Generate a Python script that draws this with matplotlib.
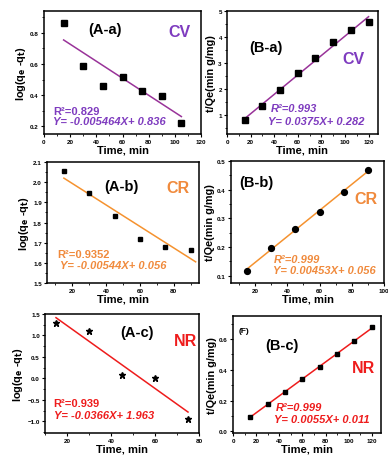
import numpy as np
import matplotlib
matplotlib.use('Agg')
import matplotlib.pyplot as plt
from matplotlib.ticker import AutoMinorLocator

plt.rcParams['font.family'] = ['Liberation Sans', 'DejaVu Sans']
plt.rcParams['font.weight'] = 'bold'
plt.rcParams['mathtext.default'] = 'bf'

# data
t_aa = [15, 30, 45, 60, 75, 90, 105]
y_aa = [0.865, 0.587, 0.458, 0.516, 0.426, 0.394, 0.219]
fit_aa_x = [15, 105]
fit_aa_y = [0.754, 0.262]

t_ba = [15, 30, 45, 60, 75, 90, 105, 120]
y_ba = [0.80, 1.35, 1.93, 2.62, 3.20, 3.80, 4.27, 4.58]
fit_ba_x = [15, 120]
fit_ba_y = [0.844, 4.78]

t_ab = [15, 30, 45, 60, 75, 90]
y_ab = [2.055, 1.945, 1.83, 1.716, 1.68, 1.663]
fit_ab_x = [15, 93]
fit_ab_y = [2.02, 1.605]

t_bb = [15, 30, 45, 60, 75, 90]
y_bb = [0.118, 0.198, 0.263, 0.322, 0.393, 0.467]
fit_bb_x = [15, 90]
fit_bb_y = [0.124, 0.464]

t_ac = [15, 30, 45, 60, 75]
y_ac = [1.29, 1.10, 0.09, 0.015, -0.95]
fit_ac_x = [15, 75]
fit_ac_y = [1.414, -0.782]

t_bc = [15, 30, 45, 60, 75, 90, 105, 120]
y_bc = [0.095, 0.18, 0.258, 0.34, 0.42, 0.505, 0.59, 0.68]
fit_bc_x = [15, 120]
fit_bc_y = [0.0935, 0.671]

purple_l, purple_t = '#993399', '#7E3BBF'
orange_l, orange_t = '#F5922F', '#F08A3C'
red = '#EE1C1C'

W, H = 388, 456
fig = plt.figure(figsize=(W / 100, H / 100), dpi=100)


def make_ax(l, t, r, b):
    ax = fig.add_axes([l / W, 1 - b / H, (r - l) / W, (b - t) / H])
    for s in ax.spines.values():
        s.set_linewidth(1.1)
    ax.tick_params(labelsize=4.5, width=0.8, length=2.5, pad=1.2)
    ax.tick_params(which='minor', width=0.6, length=1.5)
    ax.xaxis.set_minor_locator(AutoMinorLocator(2))
    ax.yaxis.set_minor_locator(AutoMinorLocator(2))
    ax.set_xlabel('Time, min', fontsize=8, fontweight='bold', labelpad=0)
    return ax


def txt(ax, x, y, s, color, size, ha='left', style='normal'):
    ax.text(x, y, s, transform=ax.transAxes, color=color, fontsize=size,
            fontweight='bold', ha=ha, va='center', style=style)


ylab_kw = dict(fontsize=7.8, fontweight='bold', labelpad=1.5)

# (A-a)
ax = make_ax(44, 12, 201, 135)
ax.plot(fit_aa_x, fit_aa_y, color=purple_l, lw=1.1)
ax.plot(t_aa, y_aa, 's', color='black', ms=4)
ax.set_xlim(0, 120)
ax.set_ylim(0.15, 0.94)
ax.set_xticks([0, 20, 40, 60, 80, 100, 120])
ax.set_yticks([0.2, 0.4, 0.6, 0.8])
ax.set_ylabel('log(q$_e$ -q$_t$)', **ylab_kw)
txt(ax, 0.39, 0.855, '(A-a)', 'black', 10.5, ha='center')
txt(ax, 0.86, 0.83, 'CV', purple_t, 11.5, ha='center')
txt(ax, 0.06, 0.19, 'R²=0.829', purple_t, 8)
txt(ax, 0.06, 0.105, 'Y= -0.005464X+ 0.836', purple_t, 8, style='italic')

# (B-a)
ax = make_ax(227, 12, 378, 135)
ax.plot(fit_ba_x, fit_ba_y, color=purple_l, lw=1.1)
ax.plot(t_ba, y_ba, 's', color='black', ms=4)
ax.set_xlim(0, 128)
ax.set_ylim(0.25, 5)
ax.set_xticks([0, 20, 40, 60, 80, 100, 120])
ax.set_yticks([1, 2, 3, 4, 5])
ax.set_ylabel('t/Qe(min g/mg)', **ylab_kw)
txt(ax, 0.26, 0.71, '(B-a)', 'black', 10.5, ha='center')
txt(ax, 0.84, 0.61, 'CV', purple_t, 11.5, ha='center')
txt(ax, 0.29, 0.21, 'R²=0.993', purple_t, 8, style='italic')
txt(ax, 0.27, 0.105, 'Y= 0.0375X+ 0.282', purple_t, 8, style='italic')

# (A-b)
ax = make_ax(47, 163, 199, 284)
ax.plot(fit_ab_x, fit_ab_y, color=orange_l, lw=1.1)
ax.plot(t_ab, y_ab, 's', color='black', ms=3.5)
ax.set_xlim(5, 95)
ax.set_ylim(1.5, 2.1)
ax.set_xticks([20, 40, 60, 80])
ax.set_yticks([1.5, 1.6, 1.7, 1.8, 1.9, 2.0, 2.1])
ax.set_ylabel('log(q$_e$ -q$_t$)', **ylab_kw)
txt(ax, 0.49, 0.80, '(A-b)', 'black', 10.5, ha='center')
txt(ax, 0.86, 0.79, 'CR', orange_t, 11.5, ha='center')
txt(ax, 0.07, 0.24, 'R²=0.9352', orange_t, 8)
txt(ax, 0.085, 0.15, 'Y= -0.00544X+ 0.056', orange_t, 8, style='italic')

# (B-b)
ax = make_ax(231, 162, 384, 284)
ax.plot(fit_bb_x, fit_bb_y, color=orange_l, lw=1.1)
ax.plot(t_bb, y_bb, 'o', color='black', ms=4.2)
ax.set_xlim(5, 100)
ax.set_ylim(0.075, 0.5)
ax.set_xticks([20, 40, 60, 80, 100])
ax.set_yticks([0.1, 0.2, 0.3, 0.4, 0.5])
ax.set_ylabel('t/Qe(min g/mg)', **ylab_kw)
txt(ax, 0.165, 0.83, '(B-b)', 'black', 10.5, ha='center')
txt(ax, 0.88, 0.69, 'CR', orange_t, 11.5, ha='center')
txt(ax, 0.28, 0.20, 'R²=0.999', orange_t, 8, style='italic')
txt(ax, 0.275, 0.105, 'Y= 0.00453X+ 0.056', orange_t, 8, style='italic')

# (A-c)
ax = make_ax(45, 315, 199, 434)
ax.plot(fit_ac_x, fit_ac_y, color=red, lw=1.1)
ax.plot(t_ac, y_ac, '*', color='black', ms=4.5)
ax.set_xlim(10, 80)
ax.set_ylim(-1.27, 1.5)
ax.set_xticks([20, 40, 60, 80])
ax.set_yticks([-1.0, -0.5, 0.0, 0.5, 1.0, 1.5])
ax.set_ylabel('log(q$_e$ -q$_t$)', **ylab_kw)
txt(ax, 0.60, 0.85, '(A-c)', 'black', 10.5, ha='center')
txt(ax, 0.91, 0.775, 'NR', red, 11.5, ha='center')
txt(ax, 0.055, 0.25, 'R²=0.939', red, 8)
txt(ax, 0.06, 0.15, 'Y= -0.0366X+ 1.963', red, 8, style='italic')

# (B-c)
ax = make_ax(233, 317, 381, 434)
ax.plot(fit_bc_x, fit_bc_y, color=red, lw=1.1)
ax.plot(t_bc, y_bc, 's', color='black', ms=3.5)
ax.set_xlim(0, 128)
ax.set_ylim(-0.01, 0.75)
ax.set_xticks([0, 20, 40, 60, 80, 100, 120])
ax.set_yticks([0.0, 0.2, 0.4, 0.6])
ax.set_ylabel('t/Qe(min g/mg)', **ylab_kw)
txt(ax, 0.04, 0.875, '(F)', 'black', 6)
txt(ax, 0.33, 0.75, '(B-c)', 'black', 10.5, ha='center')
txt(ax, 0.88, 0.56, 'NR', red, 11.5, ha='center')
txt(ax, 0.29, 0.22, 'R²=0.999', red, 8, style='italic')
txt(ax, 0.28, 0.12, 'Y= 0.0055X+ 0.011', red, 8, style='italic')

fig.savefig('out.png', dpi=100)
